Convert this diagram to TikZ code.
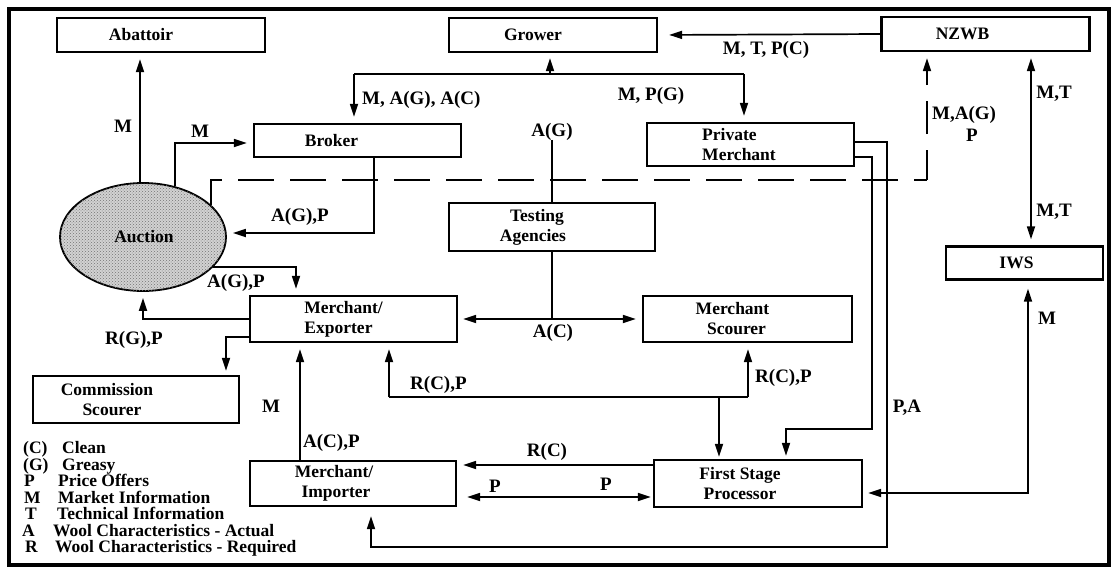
\documentclass[tikz,border=0pt]{standalone}
\usepackage{fontspec}
\setmainfont{Liberation Serif}
\usetikzlibrary{arrows.meta,shapes.geometric,patterns}
\begin{document}
\begin{tikzpicture}[x=1pt,y=-1pt,
  every node/.style={font=\bfseries\fontsize{17.5}{20}\selectfont},
  box/.style={draw, line width=2.2pt, inner sep=0pt, align=center},
  lab/.style={inner sep=0pt, text height=12pt, text depth=3.5pt, font=\bfseries\fontsize{19}{21}\selectfont},
  leg/.style={inner sep=0pt, text height=10pt, text depth=2.5pt, anchor=west},
  con/.style={line width=1.7pt},
  arr/.style={con, -{Triangle[length=13pt,width=8pt]}, shorten >=6pt},
  arrs/.style={con, {Triangle[length=13pt,width=8pt]}-{Triangle[length=13pt,width=8pt]}, shorten >=6pt, shorten <=6pt},
  ]
\useasboundingbox (0,0) rectangle (1116,571);
\draw[line width=3.5pt] (9,9) rectangle (1109,565);

% boxes
\node[box, minimum width=208pt, minimum height=34pt] (abattoir) at (161,35) {Abattoir\hspace*{40pt}};
\node[box, minimum width=208pt, minimum height=34pt] (grower) at (553,35) {Grower\hspace*{40pt}};
\node[box, minimum width=208pt, minimum height=34pt] (nzwb) at (985.5,34) {NZWB\hspace*{46pt}};
\node[box, minimum width=207pt, minimum height=33pt] (broker) at (357.5,140.5) {Broker\hspace*{52pt}};
\node[box, align=left, minimum width=207pt, minimum height=43pt] (pm) at (750.5,144.5) {Private\\Merchant\hspace*{23pt}};
\node[box, minimum width=206pt, minimum height=48pt] (ta) at (552,227) {Testing\hspace*{30pt}\\Agencies\hspace*{38pt}};
\node[ellipse, draw, line width=1.8pt, minimum width=166pt, minimum height=108pt, inner sep=0pt,
      fill=gray!35, postaction={pattern=crosshatch dots, pattern color=black!55}] (auction) at (143,237) {};
\node[inner sep=0pt] (auctionT) at (144,237) {Auction};
\node[box, minimum width=207pt, minimum height=46pt] (me) at (353.5,319) {Merchant/\hspace*{20pt}\\Exporter\hspace*{30pt}};
\node[box, minimum width=209pt, minimum height=46pt] (ms) at (747.5,319) {Merchant\hspace*{30pt}\\Scourer\hspace*{22pt}};
\node[box, minimum width=157pt, minimum height=33pt] (iws) at (1024.5,263) {IWS\hspace*{16pt}};
\node[box, minimum width=206pt, minimum height=47pt] (cs) at (136,399.5) {Commission\hspace*{58pt}\\Scourer\hspace*{48pt}};
\node[box, minimum width=206pt, minimum height=45pt] (mi) at (353,483.5) {Merchant/\hspace*{38pt}\\Importer\hspace*{34pt}};
\node[box, minimum width=208pt, minimum height=47pt] (fsp) at (758,483.5) {First Stage\hspace*{36pt}\\Processor\hspace*{36pt}};

% Auction -> Abattoir
\draw[arr] (auction.north -| 140,0) -- (abattoir.south -| 140,0);
\node[lab] (l1) at (123,128) {M};
% Auction -> Broker
\draw[arr] (auction.58) |- (broker.west |- 0,143);
\node[lab] (l2) at (200,133) {M};
% Broker -> Auction
\draw[arr] (broker.south -| 374,0) |- (auction.east |- 0,233);
\node[lab] (l3) at (300,217) {A(G),P};

% Grower bus
\coordinate (gL) at (354,74);
\coordinate (gR) at (744,74);
\coordinate (gM) at (550,74);
\draw[con] (gL) -- (gR);
\draw[arr, shorten >=5pt] (gM) -- (grower.south -| gM);
\draw[arr] (gL) -- (broker.north -| gL);
\draw[arr] (gR) -- (pm.north -| gR);
\node[lab, anchor=west] (l4) at (362,100) {M, A(G), A(C)};
\node[lab] (l5) at (651,96) {M, P(G)};

% NZWB -> Grower
\draw[arr, shorten >=11pt] (nzwb.west) -- (grower.east);
\node[lab] (l6) at (766,50) {M, T, P(C)};

% NZWB <-> IWS
\draw[arrs] (nzwb.south -| 1031,0) -- (iws.north -| 1031,0);
\node[lab] (l7) at (1054,94) {M,T};
\node[lab] (l8) at (1054,212) {M,T};

% dashed line to NZWB
\coordinate (dk) at (927,180);
\draw[con, dash pattern=on 36pt off 16pt] (auction.25) |- (dk);
\draw[con, dash pattern=on 33pt off 16pt, dash phase=3pt, -{Triangle[length=13pt,width=8pt]}, shorten >=6pt] (dk) -- (nzwb.south -| dk);
\node[lab, anchor=west] (l9) at (932,115) {M,A(G)};
\node[lab] (l10) at (972,137) {P};

% Private merchant lines
\coordinate (po) at (887,547);
\draw[arr, shorten >=9pt] (pm.east |- 0,142) -| (po) -| (mi.south -| 371,0);
\coordinate (pin) at (872,429);
\draw[arr, shorten >=3pt] (pm.east |- 0,157) -| (pin) -| (fsp.north -| 786,0);
\node[lab] (l11) at (907,408) {P,A};

% Testing agencies
\node[lab] (tag) at (552,132) {A(G)};
\draw[con] (tag.south) -- (ta.north);
\draw[con] (ta.south) -- (ta.south |- me.east);
\draw[arrs, shorten <=5pt] (me.east) -- (ms.west);
\node[lab] (l12) at (553,333) {A(C)};

% Auction <-> Merchant/Exporter
\draw[arr] (auction.-23.5) -| (me.north -| 296,0);
\node[lab] (l13) at (236,283) {A(G),P};
\draw[arr] (me.west) -| (auction.south);
\node[lab] (l14) at (134,340) {R(G),P};
\draw[arr, shorten >=4pt] (me.west |- 0,337) -| (cs.north -| 226,0);

% Importer -> Exporter
\draw[arr] (mi.north -| 300,0) -- (me.south -| 300,0);
\node[lab] (l15) at (271,408) {M};
\node[lab, anchor=west] (l16) at (303,443) {A(C),P};

% R(C),P bus
\coordinate (b1) at (389,397);
\coordinate (b2) at (748,397);
\coordinate (b3) at (719,397);
\draw[con] (b1) -- (b2);
\draw[arr] (b1) -- (me.south -| b1);
\draw[arr] (b2) -- (ms.south -| b2);
\draw[arr, shorten >=2pt] (b3) -- (fsp.north -| b3);
\node[lab, anchor=west] (l17) at (410,385) {R(C),P};
\node[lab, anchor=west] (l18) at (755,378) {R(C),P};

% FSP <-> Importer
\draw[arr] (fsp.west |- 0,465) -- (mi.east |- 0,465);
\node[lab] (l19) at (547,452) {R(C)};
\draw[arrs, shorten <=10pt, shorten >=2pt] (mi.east |- 0,497) -- (fsp.west |- 0,497);
\node[lab] (l20) at (495,488) {P};
\node[lab] (l21) at (606,486) {P};

% IWS <-> FSP
\draw[arrs, shorten <=8pt, shorten >=5pt] (iws.south -| 1028,0) |- (fsp.east |- 0,493);
\node[lab] (l22) at (1047,320) {M};

% legend
\node[leg] (k1) at (23,450) {(C)};
\node[leg] (k2) at (23,466.5) {(G)};
\node[leg] (k3) at (24,483) {P};
\node[leg] (k4) at (24,499.5) {M};
\node[leg] (k5) at (25,516) {T};
\node[leg] (k6) at (22,532.5) {A};
\node[leg] (k7) at (25,549) {R};
\node[leg] (d1) at (62,450) {Clean};
\node[leg] (d2) at (62,466.5) {Greasy};
\node[leg] (d3) at (58,483) {Price Offers};
\node[leg] (d4) at (58,499.5) {Market Information};
\node[leg] (d5) at (57,516) {Technical Information};
\node[leg] (d6) at (53,532.5) {Wool Characteristics - Actual};
\node[leg] (d7) at (55,549) {Wool Characteristics - Required};
\end{tikzpicture}
\end{document}
